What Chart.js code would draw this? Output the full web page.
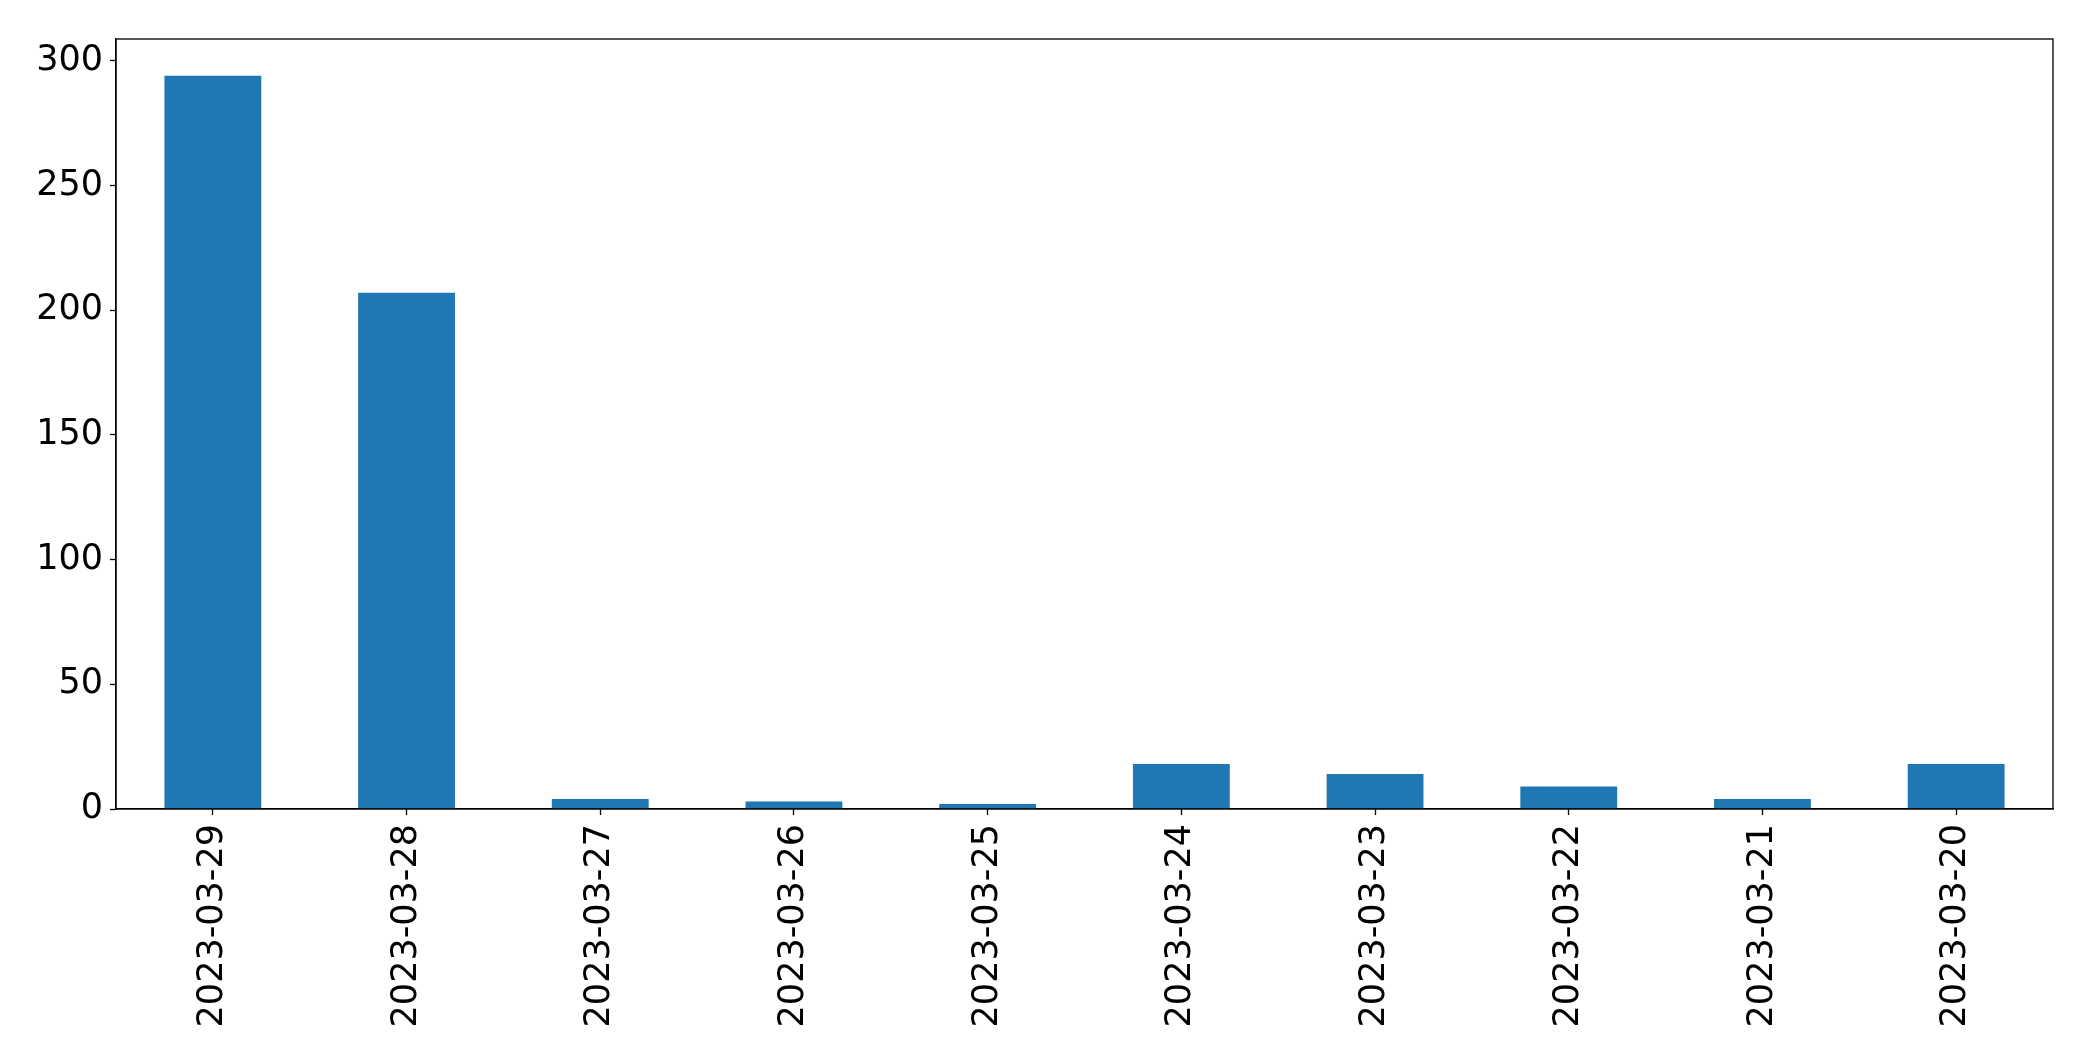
<!DOCTYPE html>
<html>
<head>
<meta charset="utf-8">
<script src="https://cdn.jsdelivr.net/npm/chart.js@4/dist/chart.umd.min.js"></script>
<style>
  html, body { margin: 0; padding: 0; background: #fff; }
  #wrap { width: 2093px; height: 1061px; }
</style>
</head>
<body>
<div id="wrap"><canvas id="myChart" width="2093" height="1061"></canvas></div>
<script>
// values
var dates = ["2023-03-29", "2023-03-28", "2023-03-27", "2023-03-26", "2023-03-25",
             "2023-03-24", "2023-03-23", "2023-03-22", "2023-03-21", "2023-03-20"];
var counts = [294, 207, 4, 3, 2, 18, 14, 9, 4, 18];
var yTicks = [0, 50, 100, 150, 200, 250, 300];

// box round the plot area
var frame = {
  id: "frame",
  afterDraw: function (chart) {
    var a = chart.chartArea;
    var ctx = chart.ctx;
    ctx.save();
    ctx.strokeStyle = "#000";
    ctx.lineWidth = 1.3;
    ctx.strokeRect(a.left, a.top, a.right - a.left, a.bottom - a.top);
    ctx.restore();
  }
};

new Chart("myChart", {
  type: "bar",
  data: {
    labels: dates,
    datasets: [{
      data: counts,
      backgroundColor: "#1f77b4",
      categoryPercentage: 1,
      barPercentage: 0.5
    }]
  },
  options: {
    responsive: false,
    animation: false,
    layout: { padding: { top: 39, right: 40, left: 0, bottom: 0 } },
    plugins: { legend: { display: false }, tooltip: { enabled: false } },
    scales: {
      x: {
        grid: { display: true, offset: false, drawOnChartArea: false, color: "#000", tickLength: 6, tickWidth: 1.3 },
        border: { display: true, color: "#000", width: 1.3 },
        ticks: {
          color: "#000",
          font: { family: "DejaVu Sans", size: 35 },
          minRotation: 90,
          maxRotation: 90,
          padding: 9,
          autoSkip: false
        },
        afterFit: function (s) { s.height = 252; }
      },
      y: {
        min: 0,
        max: 308.7,
        grid: { display: true, drawOnChartArea: false, color: "#000", tickLength: 6, tickWidth: 1.3 },
        border: { display: true, color: "#000", width: 1.3 },
        ticks: {
          color: "#000",
          font: { family: "DejaVu Sans", size: 35 },
          padding: 7
        },
        afterBuildTicks: function (s) {
          s.ticks = yTicks.map(function (v) { return { value: v }; });
        },
        afterFit: function (s) { s.width = 116; }
      }
    }
  },
  plugins: [frame]
});
</script>
</body>
</html>
